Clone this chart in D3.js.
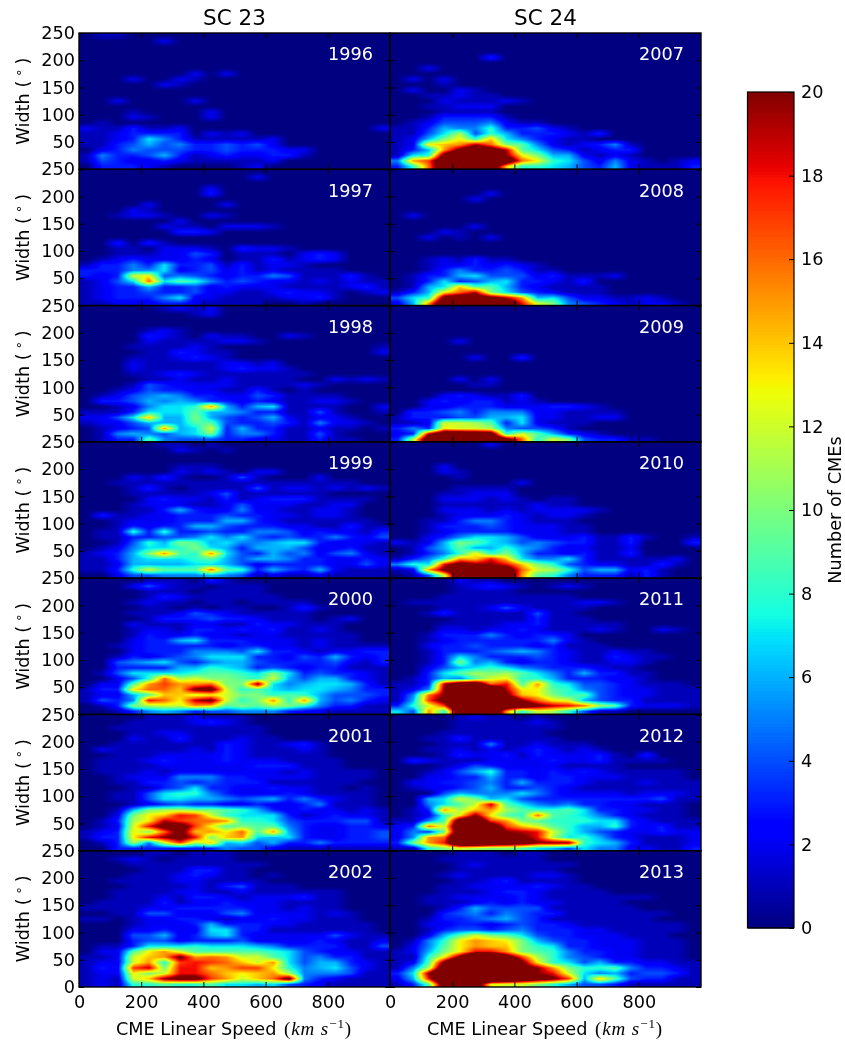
<!DOCTYPE html>
<html>
<head>
<meta charset="utf-8">
<script src="https://cdn.jsdelivr.net/npm/d3@7"></script>
<style>
  html, body { margin: 0; padding: 0; background: #fff; }
  #chart { position: relative; width: 845px; height: 1042px; overflow: hidden; }
  canvas { position: absolute; }
  svg { position: absolute; left: 0; top: 0; font-family: "DejaVu Sans", sans-serif; }
</style>
</head>
<body>
<div id="chart"></div>
<script>
// counts per cell, rows from 0-10 deg upward, columns 0-50 km/s onward. Short rows end in zeros.
const counts1996 = [
  [0,3,3,3,2,1,0,0,0,0,1,2],
  [1,4,3,2,2,3,2,1,1,1,1,1,2],
  [1,5,3,3,4,6,3,1,2,3,2,2,3,3,1],
  [0,2,3,5,4,4,4,3,3,4,3,3,3,2,2],
  [1,1,3,4,6,4,5,3,3,4,3,4,2],
  [1,1,2,3,7,5,3,1,1,1,1,1,2],
  [1,1,2,3,3,3,3,0,2,1,2],
  [2,1,1,3,1,1,2,0,0,0,0,0,0,0,0,0,0,0,0,2],
  [0,1],
  [0,0,0,2,1,0,0,0,2],
  [0,0,0,1,0,0,0,0,2],
  [],
  [0,0,2,0,0,0,0,2],
  [],
  [],
  [0,0,0,0,0,2,1],
  [0,0,0,2,0,0,2,1],
  [0,0,0,0,0,0,0,2,0,2],
  [],[],[],[],[],
  [0,0,0,0,0,2],
  [0,1,1]
];
const counts1997 = [
  [1,1,2,2,2,3,3,2,1,1,1,1,0,0,1],
  [1,2,3,3,3,5,7,2,2,1,1,1,1,2,2,3,1],
  [1,2,3,3,4,3,3,4,2,2,1,1,2,3,2,2,1,0,1,2],
  [1,2,3,3,6,3,3,4,2,3,2,2,2,1,1,1,1,2,3,1],
  [1,2,4,7,16,7,9,8,5,3,4,3,2,2,1,2,1,2,1,1],
  [3,2,3,12,13,4,5,4,3,2,3,3,5,4,1,1,1,3,1],
  [3,3,3,5,5,7,2,3,4,2,3,1,2,1,1,1,1],
  [1,3,3,5,3,7,3,3,4,1,3,1,2,2,1],
  [0,1,2,3,2,2,2,3,2,0,1,1,3,1,2,3,2],
  [0,0,1,1,1,2,2,4,3,0,1,1,1,0,2,3,2],
  [0,0,1,1,0,2,2,2,1,0,3,2,2,1],
  [0,0,3,0,3,1],
  [],
  [0,0,0,0,0,0,3,3,2],
  [0,0,0,0,0,2,1,1,0,2,2,2,1],
  [0,0,0,0,0,0,2],
  [0,0,1,2,2,1,0,0,2,1],
  [0,0,0,2,1],
  [0,0,0,0,2,0,0,0,0,2],
  [],
  [0,0,0,0,0,0,0,0,3],
  [0,0,0,0,0,0,0,0,2],
  [],
  [0,0,0,0,0,0,0,0,0,0,0,2],
  []
];
const counts1998 = [
  [0,1,3,3,9,5,4,4,4,3,3,2,2,1,1,3,1,1],
  [0,1,5,6,5,4,6,7,10,3,5,5,3,1,1,4,1],
  [0,1,2,3,4,15,6,7,12,3,6,3,3,1,1,2,1,1,0,1],
  [1,2,2,4,6,6,6,9,9,4,3,3,4,3,1,5,2,2,1],
  [2,2,4,7,14,6,6,10,6,4,3,4,6,2,1,2,2,1],
  [1,1,1,3,7,7,7,9,6,6,5,3,3,1,1,4,1,0,0,1],
  [0,0,1,2,5,7,7,8,15,6,3,6,7,1,1,1,1,0,0,2],
  [0,3,3,4,6,5,6,5,3,3,2,3,2,1,1,2,2,1],
  [0,1,2,4,5,6,5,3,3,2,2,4,3,1,1,1,1],
  [0,0,1,2,4,3,3,2,2,1,1,3,1,0,1],
  [0,0,0,1,4,3,2,2,2,2,1,1,1,1,2,1],
  [0,0,0,0,1,1,2,1,1,2,1,1,1,1,0,0,2,1,2,1],
  [0,0,0,1,1,2,3,2,1,1,1,1,1,1,1],
  [0,0,0,2,1,1,1,1,1,2,3,2,2,1],
  [0,0,0,2,1,1,1,1,1,2,2,1,2],
  [0,0,0,1,1,1,2,3,2,1],
  [0,0,0,0,1,1,3,2,1,1,0,0,0,0,0,0,0,0,0,2],
  [0,0,0,1,1,1,1,2,1,0,0,0,0,0,0,0,0,0,0,1],
  [0,0,0,0,2,1,1,1,1,2,2,1],
  [0,0,0,0,3,2,1,0,2,1,1,0,0,2,1],
  [0,0,0,0,1,2,1],
  [],
  [],
  [0,0,0,0,0,0,0,1,2],
  [0,0,0,0,0,1,2,1,2]
];
const counts1999 = [
  [0,0,2,4,4,5,5,5,6,5,4,1,2,1,1,2,1,1,1,1],
  [1,1,3,8,12,9,9,9,16,9,8,3,6,4,3,6,2,1,1,1],
  [1,1,2,6,6,6,6,7,7,6,4,2,3,3,3,3,2,2,4,2],
  [1,1,3,6,7,7,7,8,9,6,4,6,6,5,3,3,2,2,3,2],
  [1,2,3,6,10,15,9,8,15,7,4,3,6,4,5,2,4,5,2,1],
  [0,1,2,5,7,7,8,10,7,6,3,6,6,6,4,2,2,3,1,1],
  [0,0,1,4,8,6,10,9,6,7,5,5,6,7,7,3,2,2,2,1],
  [0,1,1,3,3,4,4,5,7,5,7,4,3,4,3,3,5,3,2,4],
  [0,1,1,8,3,8,3,3,4,3,3,5,5,4,2,3,2,2,1,3],
  [0,0,1,3,2,3,3,6,6,4,3,3,3,2,2,1,1,3,1,1],
  [0,0,1,2,2,2,3,3,3,6,6,3,2,1,1,1,1,1,1],
  [0,3,1,1,2,2,3,3,3,4,3,3,2,2,1,2,2,1],
  [0,0,0,1,1,3,6,3,2,2,5,2,2,1,1,2,2,1],
  [0,0,0,1,2,2,2,1,1,2,4,2,2,2,1,1,2,2],
  [0,0,0,0,2,3,2,2,1,3,1,2,3,3,3,1,1,1,1],
  [0,0,0,1,1,1,1,1,2,4,1,1,1,1,1,1],
  [0,0,0,1,3,1,0,1,1,1,1,4,1,2,2,1,2,1,2,1],
  [0,0,1,1,1,1,1,1,1,1,1,1,1,1,1,1,1,1],
  [0,0,0,2,1,3,1,0,0,1,4,1,0,0,0,2],
  [0,0,0,0,0,0,2,1,2,1,0,2,2],
  [0,0,0,0,0,0,1,1,1],
  [],
  [],
  [0,0,0,0,0,0,2,1,0,1],
  [0,0,0,0,0,1,1,0,1]
];
const counts2000 = [
  [0,0,1,3,5,6,5,3,4,4,5,5,5,3,2,2,1,1,1,1],
  [0,1,3,10,11,12,12,15,14,9,10,9,11,10,8,5,3,3,1,1],
  [1,4,3,5,18,16,13,19,21,12,8,10,15,8,15,6,4,5,3,2],
  [1,2,2,6,9,14,14,12,13,12,10,10,8,9,8,6,4,4,4,3],
  [1,3,3,13,16,16,14,21,22,12,8,9,7,6,7,7,6,5,3,3],
  [0,2,2,9,15,17,15,15,16,10,10,20,7,5,6,7,7,6,3,1],
  [0,0,2,4,8,16,11,12,10,10,9,8,12,6,4,6,6,3,2,1],
  [0,1,4,7,7,7,7,8,9,9,8,7,10,7,3,4,3,3,2,1],
  [0,0,3,3,3,3,6,6,8,7,6,3,4,3,2,3,3,1,1,1],
  [0,0,4,5,6,7,4,3,5,6,6,4,3,3,3,3,4,2,1,3],
  [0,0,1,3,2,3,4,5,7,7,7,3,3,2,4,3,6,3,2,3],
  [0,0,0,2,3,3,3,5,5,5,4,7,3,3,2,1,2,2,3,3],
  [0,0,1,2,3,3,3,3,3,2,3,3,2,2,1,2,1,1,1,1],
  [0,0,0,2,3,3,6,7,3,3,3,2,2,2,1,2,1,1],
  [0,0,0,1,3,2,2,3,2,2,1,2,2,1,1,1,1,1],
  [0,0,0,1,2,2,1,3,3,2,3,2,3,1,1,2,1],
  [0,0,0,2,1,1,1,2,2,1,1,3,2,2,1,1,1],
  [0,0,0,0,1,3,3,3,4,3,3,2,1,1,1,0,1,2],
  [0,0,0,1,1,1,2,4,3,2,1,1,1,1,1],
  [0,0,0,0,1,1,0,1,0,1,1,0,0,1,3,1],
  [0,0,0,1,2,1,1,0,1,1,0,1,1,1,1],
  [0,0,0,0,1,3,2,1,1,1,1,1,1],
  [0,0,0,0,1,1,1,0,1,1,1,1],
  [0,0,0,2,4,2,1,1,0,1,1,1],
  [0,0,0,0,1,1,1,0,3,1]
];
const counts2001 = [
  [0,0,3,3,3,3,3,3,3,5,4,4,2,1,1,1,1,1,1,1],
  [0,1,3,11,5,12,17,11,14,6,7,4,6,3,3,5,3,3,3,3],
  [1,3,3,13,18,20,22,18,10,14,15,7,6,7,3,2,2,3,3,4],
  [1,2,3,13,10,16,22,14,15,13,16,9,15,6,3,2,2,3,3,4],
  [0,1,2,12,18,22,23,17,13,9,10,9,9,5,3,2,2,3,3,2],
  [0,1,3,11,13,19,17,16,16,15,8,8,7,4,3,3,3,4,4,1],
  [0,0,2,10,13,14,18,17,12,8,7,7,7,3,1,2,3,2,2,1],
  [0,0,1,6,10,11,11,10,10,9,8,6,3,2,3,2,2,1,2,1],
  [0,0,0,1,2,3,4,3,3,2,2,3,2,2,3,5,1,1,1],
  [0,0,1,1,4,7,7,6,6,5,4,5,6,3,5,3,2,1,1],
  [0,0,1,1,4,7,8,8,5,3,2,2,2,3,2,1,1,1,1],
  [0,0,0,1,1,3,4,7,3,3,2,2,3,2,2,1,1,0,1],
  [0,0,1,1,3,3,4,3,4,3,3,3,1,1,1,1,1,1],
  [0,0,1,2,2,2,5,5,5,3,3,2,2,2,2,1,1,1,1],
  [0,1,1,1,2,1,2,2,2,2,2,2,2,1,2,1,1,1,1],
  [0,1,1,1,1,2,2,2,2,2,2,3,3,3,1,1,1],
  [0,1,1,1,2,3,2,2,2,3,2,2,2,1,1,1,1],
  [0,0,1,1,1,2,2,2,2,3,2,1,1,1,1,1],
  [0,2,1,1,1,1,1,2,1,3,2,1,1,1,2,1],
  [0,0,1,1,1,1,1,1,1,3,2,1,1,2,3,1],
  [0,0,0,2,1,1,3,1,1,1,2,1,1],
  [0,0,0,1,1,2,2,1,1,1,1,1],
  [0,0,1,1,1,1,1,1,1,1,1,1],
  [0,0,0,1,1,1,1,2,3,2,1],
  [0,0,0,0,1,1,1,2,1,1,1]
];
const counts2002 = [
  [1,2,1,8,8,9,8,8,9,7,7,6,7,4,3,2,1,1,1,1],
  [1,2,1,12,14,20,22,22,17,15,12,14,16,22,5,3,2,1,1,1],
  [1,2,2,13,10,12,18,18,16,14,13,14,15,11,5,5,5,4,1,1],
  [1,3,2,17,19,10,18,18,14,15,17,17,13,8,5,6,7,4,2,1],
  [1,2,2,12,15,8,17,18,17,16,14,12,15,7,4,6,6,3,2,1],
  [1,1,2,12,14,15,21,15,16,15,12,12,9,7,4,5,3,3,1,1],
  [0,2,2,9,13,15,12,9,9,9,9,9,8,7,4,3,2,2,1,1],
  [0,1,1,3,7,7,7,8,7,7,7,6,5,3,3,3,3,1,1,4],
  [0,0,0,3,4,4,2,3,3,3,4,2,2,2,2,3,2,1,1,2],
  [0,0,0,4,4,6,2,3,6,7,3,2,2,2,2,2,4,2,1,1],
  [0,0,0,2,2,3,2,2,7,7,3,3,1,1,1,1,1,1,1],
  [0,0,0,1,2,2,2,3,6,3,3,3,2,2,1,1,1,1,1],
  [1,1,0,1,2,2,3,3,2,1,2,2,3,2,2,1,1,1],
  [0,0,1,1,4,4,2,2,2,4,5,2,2,2,2,1,2,1],
  [1,1,1,1,2,2,3,3,3,3,3,2,2,1,2,1,1],
  [0,1,1,1,1,3,1,2,2,3,2,2,2,1,1,1,1],
  [0,0,1,1,1,2,1,3,3,2,1,2,2,2,3,1,1],
  [0,0,1,1,1,1,2,2,1,1,2,1,1,1,1,1,1],
  [0,0,0,1,1,1,1,2,1,3,4,1,1,1],
  [0,0,1,1,1,1,2,2,1,1,1,1],
  [0,0,0,1,1,1,2,3,2,1,1,0,1],
  [0,0,0,0,1,1,1,3,3,1,1],
  [0,0,0,1,1,1,1,1,1,1,1,1],
  [0,0,1,2,1,0,1,1,1,1],
  [0,0,0,0,1,1,0,1,1,1]
];
const counts2007 = [
  [3,8,16,25,30,30,25,14,8,8,7,6,4,3,6,2,1,1,1,3],
  [5,15,17,25,30,30,30,25,16,13,8,7,4,2,5,2,1,0,1,2],
  [1,7,8,22,28,30,28,20,13,10,6,6,2,1,2,1],
  [1,3,6,15,21,25,23,19,9,7,4,3,1,2,3,3],
  [1,2,13,14,15,19,16,10,9,5,2,1,2,3,5,1],
  [1,2,6,10,13,8,14,7,5,3,2,1,1],
  [1,1,4,7,11,4,8,6,3,3,3,2,1,3],
  [1,1,3,6,5,5,8,3,3,4,2,1],
  [0,1,2,4,4,4,5,2,1,1],
  [0,0,1,3,3,3,3,1],
  [0,0,0,1,1,1,1],
  [0,0,1,1,2,2,2],
  [0,0,0,2,1,1,1,2,1],
  [0,0,1,1,2,1,1],
  [0,2,0,0,2,1],
  [0,0,0,1],
  [0,2,0,2],
  [],
  [0,0,2],
  [],
  [0,0,0,0,0,0,3],
  [],[],[],[]
];
const counts2008 = [
  [2,6,15,25,28,28,28,24,18,12,10,5,4,3,2,1,2,2,1],
  [4,7,8,22,24,23,22,19,15,6,7,4,2,2,1,1,2,1],
  [1,3,6,13,16,19,10,7,4,3,2,1,1,1],
  [0,1,6,7,14,9,9,6,3,2,1,1,1,1],
  [0,1,3,7,3,4,6,7,3,3,2,1,3],
  [0,1,3,3,6,7,4,4,4,2,3,1,1,1,2],
  [0,0,1,3,5,3,3,4,3,1,1],
  [0,0,1,2,2,3,2,3,2,1],
  [0,0,1,2,1,3,1,1],
  [],
  [],
  [],
  [0,0,2,0,1,0,2],
  [0,0,0,2,1],
  [0,0,0,0,0,2],
  [],
  [0,2],
  [],[],
  [0,0,0,0,0,2],
  [0,0,0,0,0,0,2],
  [],[],[],[]
];
const counts2009 = [
  [3,11,25,25,25,25,25,22,16,8,12,10,4,3,3,1,1],
  [2,3,19,25,25,24,23,8,12,9,6,3,2,1],
  [3,5,3,13,12,12,11,5,4,4,3,1],
  [1,1,2,12,12,11,9,3,7,2,1,1,1],
  [1,3,3,3,4,4,6,6,7,2,2,1,1,2,2],
  [0,3,3,4,5,3,5,5,5,2,2,1,1,1,1],
  [0,0,2,2,3,3,3,2,2,2,3,3,2,1],
  [0,0,2,3,2,3,3,1,2,1],
  [0,0,0,2,3,2,1,1,3],
  [],
  [0,0,0,0,0,1,1],
  [0,0,0,0,2,0,2],
  [],[],[],
  [0,0,0,0,0,2,0,0,3],
  [],[],
  [0,0,0,0,2],
  [],[],[],[],[],[]
];
const counts2010 = [
  [0,1,4,12,25,25,25,25,15,9,8,5,3,3,3,1,3,1],
  [1,2,15,21,25,25,25,24,16,12,11,8,4,6,6,2,3,1],
  [5,8,7,18,22,20,20,18,14,10,8,4,3,2,2,1,1,3,1],
  [1,3,5,8,15,14,18,14,7,5,5,7,3,1,1,1,1,1,2],
  [0,1,3,5,8,13,8,10,6,3,3,2,3,1,1,3],
  [0,1,4,6,9,6,6,8,6,5,3,2,2,1,1,2],
  [2,1,2,6,10,9,7,6,4,5,4,3,3,1,1,3,0,0,0,3],
  [0,0,2,3,5,7,7,6,4,2,2,2,3,1,1,3,1,0,0,1],
  [0,0,1,2,3,3,3,3,2,2,2,1,1],
  [0,0,1,3,3,3,4,3,2,2,2,1,1],
  [0,0,1,1,3,5,5,3,2,1,1,1],
  [0,0,0,1,2,2,2,3,2,1,2,2,1],
  [0,0,0,2,2,2,1,2,1,2,2,2,2,1],
  [0,0,0,1,1,1,1,1,1,2,1,1],
  [0,0,0,2,2,2,1,2,1,0,1,1],
  [0,0,0,1,1,2,2,2],
  [0,0,0,0,1,1,1,1],
  [0,0,0,0,0,0,0,0,2],
  [0,0,0,0,1],
  [0,0,0,2,1],
  [0,0,0,2],
  [],[],[],
  [0,0,0,0,0,0,2]
];
const counts2011 = [
  [7,4,15,8,25,28,28,15,8,12,11,8,4,1,1],
  [3,8,12,17,30,30,30,25,25,21,19,18,16,11,9,3,2,2,2,1],
  [1,6,17,22,30,30,30,26,20,16,13,12,6,4,3,3,1,1,1,1],
  [1,5,16,20,30,30,30,21,14,13,10,8,9,4,3,2,2,1,1,1],
  [1,2,5,20,30,30,28,19,13,13,9,8,5,4,3,2,2,1,1,1],
  [1,1,3,19,25,25,16,18,9,15,8,7,4,4,3,2,1,1,1],
  [0,1,3,6,5,9,12,13,8,8,6,3,3,3,2,2,1],
  [0,0,3,7,9,11,10,11,9,7,5,3,6,3,3,1,1],
  [0,0,2,4,6,7,8,7,5,4,3,3,3,2,1,1],
  [0,0,1,3,10,5,6,3,2,3,3,2,1,1,2,2,1],
  [0,0,1,3,7,5,3,3,3,4,3,2,1,1,3,2,1,1],
  [0,0,1,3,3,3,4,5,6,5,3,2,1,1,2,1,1],
  [0,0,2,3,3,4,3,3,3,2,3,1,1,1],
  [0,0,1,2,3,3,3,3,3,3,5,2,1],
  [0,0,1,3,3,3,5,3,2,3,3,2],
  [0,0,0,2,2,1,2,2,3,2,1,1,1,2,1,0,0,2,1],
  [0,0,0,1,1,1,1,2,2,3,1,1,1,1,1],
  [0,0,0,0,1,1,1,1,1,3,1,1,1],
  [0,0,1,3,1,1,1,1,1,4,1,1],
  [0,0,0,1,1,1,2,4,2,1,1,1,1],
  [0,1,1,1,1,1,1,1,1,1,1,1,2,2,1],
  [0,0,0,1,1,1,1,1,1,1,1,1],
  [0,0,0,0,1,1,1,1],
  [0,0,0,0,1,2,3,2,1,0,1,2,1],
  [0,0,0,0,2,1,1]
];
const counts2012 = [
  [1,1,8,10,12,11,10,10,9,7,6,4,7,5,5,2,2,1,1,3],
  [3,10,15,18,28,28,26,24,23,20,20,20,8,7,6,3,1,1,1,2],
  [2,5,15,16,28,30,28,22,21,18,11,7,8,6,3,2,1,1,1,2],
  [2,5,3,10,25,30,28,20,19,18,12,8,6,4,3,2,2,3,2,2],
  [2,3,16,12,26,28,24,17,14,12,9,8,6,6,8,3,2,3,1,1],
  [1,1,5,9,24,26,17,15,10,9,8,8,8,7,7,3,2,1,1,1],
  [0,1,2,8,13,20,13,9,8,16,9,8,7,5,3,2,1,1,1],
  [0,1,3,15,11,14,15,11,9,8,8,9,7,3,3,2,2,1,1],
  [0,0,5,7,9,12,19,9,7,5,4,5,3,3,2,2,1,1,1],
  [0,0,6,7,12,10,6,7,4,3,3,3,3,3,3,3,3,4,1,1],
  [0,0,0,4,6,5,5,5,7,5,3,2,2,2,2,1,2,2,2,1],
  [0,1,2,2,3,4,6,3,3,4,3,2,1,1,1,1,1,1,1,1],
  [0,2,2,3,3,4,5,3,6,3,3,3,2,1,1,1,2,1,1,1],
  [0,0,2,2,3,3,6,3,3,2,3,3,2,2,2,1,1,1,1],
  [0,0,1,2,4,6,8,3,3,2,3,2,3,2,1,1,1,1,1],
  [0,0,0,1,2,4,3,2,2,2,2,1,1,1,1],
  [0,3,2,1,1,1,2,2,2,2,3,2,2,3,1,1,1,1],
  [0,0,0,1,3,2,2,3,1,3,2,2,2,3,1,0,3],
  [0,0,1,1,2,1,2,1,2,3,2,1,2,1],
  [0,0,0,1,1,1,5,1,1,2,1,1,1],
  [0,0,1,1,3,1,1,1,1,1,1],
  [0,0,0,1,1,1,1,1,1,1],
  [0,0,0,0,1,1,1,1,1,1,1],
  [0,0,0,0,1,1,1,1,1,2,1],
  [0,0,0,0,1,2,1,1,0,1]
];
const counts2013 = [
  [1,3,9,24,25,25,13,12,12,10,8,6,4,4,3,1,1,1,1,1],
  [2,6,18,28,30,30,30,28,25,23,21,17,6,14,9,4,3,3,1,1],
  [3,7,20,30,30,30,30,30,26,20,18,12,7,5,6,3,4,4,3,1],
  [1,5,11,25,30,30,30,30,22,20,15,10,8,8,9,5,3,3,2,1],
  [1,2,9,21,30,30,30,28,21,13,8,7,4,6,3,3,2,2,1,1],
  [1,1,8,13,21,30,28,23,17,11,8,5,4,3,2,2,1,1,1],
  [1,2,6,10,13,18,18,15,10,9,8,5,3,3,2,2,1,1,1],
  [0,2,5,9,13,15,14,14,10,8,7,3,3,2,2,2,1,1,1],
  [0,1,5,8,13,15,14,13,10,6,4,3,3,2,2,2,1,1,1],
  [0,0,2,6,9,12,10,9,7,4,3,3,2,2,2,1,1,1],
  [0,0,1,3,4,4,3,4,5,3,3,3,2,2,1,1,1,1,1],
  [0,0,2,2,3,3,2,3,4,3,3,2,1,1,1,1,1,1,1],
  [0,0,1,3,3,4,5,6,4,3,1,1,1,1,1,1,1],
  [0,0,0,3,4,5,3,5,4,3,3,1,1,1,1,1,1,1],
  [0,0,0,1,3,6,4,4,4,4,1,1,1,1,1,1],
  [0,0,1,1,1,2,3,2,3,2,2,1,1,1,1],
  [0,0,1,1,2,2,2,2,3,2,1,1,1,1,1,1,1],
  [0,0,0,1,1,1,2,3,3,2,1,1,1,1],
  [0,0,0,1,1,2,2,2,2,3,2,1,1],
  [0,0,0,0,1,1,2,3,1,1,1,1],
  [0,0,0,1,2,1,1,1,1,2,2,1],
  [0,0,0,0,1,1,1,1,1,1,1],
  [0,0,0,0,1,2,1,1,1,1,1,1],
  [0,0,0,1,1,1,1,1,1,1],
  [0,0,0,0,1,1,1,0,1,1]
];

const leftYears = [1996, 1997, 1998, 1999, 2000, 2001, 2002];
const rightYears = [2007, 2008, 2009, 2010, 2011, 2012, 2013];
const countsByYear = {
  1996: counts1996, 1997: counts1997, 1998: counts1998, 1999: counts1999,
  2000: counts2000, 2001: counts2001, 2002: counts2002, 2007: counts2007,
  2008: counts2008, 2009: counts2009, 2010: counts2010, 2011: counts2011,
  2012: counts2012, 2013: counts2013
};
const cycleTitles = ['SC 23', 'SC 24'];
const speedTicks = [0, 200, 400, 600, 800];
const widthTicks = [0, 50, 100, 150, 200, 250];
const colorTicks = d3.range(0, 21, 2);
const speedBin = 50;
const widthBin = 10;

// matplotlib jet, channel by channel
const jetR = d3.scaleLinear([0, 0.35, 0.66, 0.89, 1], [0, 0, 1, 1, 0.5]).clamp(true);
const jetG = d3.scaleLinear([0, 0.125, 0.375, 0.64, 0.91, 1], [0, 0, 1, 1, 0, 0]).clamp(true);
const jetB = d3.scaleLinear([0, 0.11, 0.34, 0.65, 1], [0.5, 1, 1, 0, 0]).clamp(true);
const norm = d3.scaleLinear([0, 20], [0, 1]).clamp(true);
const jet = v => { const t = norm(v); return [jetR(t) * 255, jetG(t) * 255, jetB(t) * 255]; };

const W = 845, H = 1042;
const colX = d3.scaleLinear([0, 2], [79, 701]);
const rowY = d3.scaleLinear([0, 7], [33, 987]);
const pw = colX(1) - colX(0), ph = rowY(1) - rowY(0);
const x = d3.scaleLinear([0, 1000], [0, pw]);
const y = d3.scaleLinear([0, 250], [ph, 0]);

const chart = d3.select('#chart');
const svg = chart.append('svg').attr('width', W).attr('height', H);
const fontSize = 17.7;

// bilinear between cell centres, like imshow's smoothing
function cellValue(rows, r, c) {
  r = Math.max(0, Math.min(rows.length - 1, r));
  c = Math.max(0, Math.min(19, c));
  return rows[r][c] || 0;
}
function sample(rows, speed, width) {
  const cf = speed / speedBin - 0.5, rf = width / widthBin - 0.5;
  const c0 = Math.floor(cf), r0 = Math.floor(rf);
  const tc = cf - c0, tr = rf - r0;
  return (cellValue(rows, r0, c0) * (1 - tc) + cellValue(rows, r0, c0 + 1) * tc) * (1 - tr) +
    (cellValue(rows, r0 + 1, c0) * (1 - tc) + cellValue(rows, r0 + 1, c0 + 1) * tc) * tr;
}

function drawHeat(year, left, top) {
  const rows = countsByYear[year];
  const w = Math.round(pw), h = Math.round(ph);
  const canvas = chart.insert('canvas', 'svg')
    .attr('width', w).attr('height', h)
    .style('left', left + 'px').style('top', top + 'px')
    .style('width', pw + 'px').style('height', ph + 'px');
  const ctx = canvas.node().getContext('2d');
  const img = ctx.createImageData(w, h);
  for (let j = 0; j < h; j++) {
    for (let i = 0; i < w; i++) {
      const [r, g, b] = jet(sample(rows, x.invert((i + 0.5) * pw / w), y.invert((j + 0.5) * ph / h)));
      const k = (j * w + i) * 4;
      img.data[k] = r; img.data[k + 1] = g; img.data[k + 2] = b; img.data[k + 3] = 255;
    }
  }
  ctx.putImageData(img, 0, 0);
}

function styleAxis(g) {
  g.select('.domain').remove();
  g.selectAll('line').attr('stroke', '#000').attr('stroke-width', 1);
  g.selectAll('text').attr('fill', '#000').attr('font-size', fontSize).attr('font-family', '"DejaVu Sans", sans-serif');
}

function drawPanel(year, col, row) {
  const left = colX(col), top = rowY(row);
  drawHeat(year, left, top);
  const g = svg.append('g').attr('transform', `translate(${left},${top})`);
  const isBottom = row === 6, isLeft = col === 0;

  g.append('g').attr('transform', `translate(0,${ph})`)
    .call(d3.axisBottom(x).tickValues(speedTicks).tickSize(-5).tickPadding(8)
      .tickFormat(d => isBottom ? d : ''))
    .call(styleAxis);
  g.append('g')
    .call(d3.axisTop(x).tickValues(speedTicks).tickSize(-5).tickFormat(''))
    .call(styleAxis);
  g.append('g')
    .call(d3.axisLeft(y).tickValues(widthTicks).tickSize(-5).tickPadding(4)
      .tickFormat(d => (isLeft && (d > 0 || isBottom)) ? d : ''))
    .call(styleAxis);
  g.append('g').attr('transform', `translate(${pw},0)`)
    .call(d3.axisRight(y).tickValues(widthTicks).tickSize(-5).tickFormat(''))
    .call(styleAxis);

  g.append('rect').attr('width', pw).attr('height', ph)
    .attr('fill', 'none').attr('stroke', '#000').attr('stroke-width', 1.4);

  g.append('text').attr('x', x(945)).attr('y', y(200))
    .attr('text-anchor', 'end').attr('fill', '#fff').attr('font-size', fontSize)
    .text(year);

  if (isLeft) {
    const t = g.append('text')
      .attr('transform', `translate(-50,${ph / 2}) rotate(-90)`)
      .attr('text-anchor', 'middle').attr('font-size', fontSize);
    t.append('tspan').text('Width (');
    t.append('tspan').attr('dy', -6).attr('dx', 4).attr('font-size', 13).text('∘');
    t.append('tspan').attr('dy', 6).attr('dx', 4).text(')');
  }
  if (isBottom) {
    const t = g.append('text').attr('x', pw / 2 - 0.5).attr('y', ph + 48)
      .attr('text-anchor', 'middle').attr('font-size', fontSize);
    t.append('tspan').text('CME Linear Speed ');
    const math = t.append('tspan').attr('font-family', '"Liberation Serif", serif')
      .attr('font-size', 19).attr('letter-spacing', 0.9);
    math.append('tspan').attr('dx', 2).text('(');
    math.append('tspan').attr('font-style', 'italic').text('km s');
    math.append('tspan').attr('dy', -7).attr('font-size', 13).text('−1');
    math.append('tspan').attr('dy', 7).text(')');
  }
}

leftYears.forEach((year, i) => drawPanel(year, 0, i));
rightYears.forEach((year, i) => drawPanel(year, 1, i));

svg.selectAll('.cycle').data(cycleTitles).enter().append('text')
  .attr('class', 'cycle')
  .attr('x', (d, i) => colX(i + 0.5))
  .attr('y', 25)
  .attr('text-anchor', 'middle')
  .attr('font-size', 21.5)
  .text(d => d);

// colour bar
const cbLeft = 747.5, cbWidth = 46.5;
const cbY = d3.scaleLinear([0, 20], [928, 92]);
const cbSteps = d3.range(256).map(i => i / 256 * 20);
const cb = svg.append('g').attr('shape-rendering', 'crispEdges');
cb.selectAll('rect').data(cbSteps).enter().append('rect')
  .attr('x', cbLeft).attr('width', cbWidth)
  .attr('y', d => Math.floor(cbY(d + 20 / 256)))
  .attr('height', 5)
  .attr('fill', d => { const [r, g, b] = jet(d); return d3.rgb(r, g, b); });
svg.append('rect').attr('x', cbLeft).attr('y', cbY(20)).attr('width', cbWidth).attr('height', cbY(0) - cbY(20))
  .attr('fill', 'none').attr('stroke', '#000').attr('stroke-width', 1.2);
svg.append('rect').attr('x', cbLeft - 1).attr('y', cbY(0) + 0.6).attr('width', cbWidth + 2).attr('height', 5)
  .attr('fill', '#fff');
svg.append('line').attr('x1', cbLeft).attr('x2', cbLeft + cbWidth).attr('y1', cbY(0)).attr('y2', cbY(0))
  .attr('stroke', '#000').attr('stroke-width', 1.2);
svg.append('g').attr('transform', `translate(${cbLeft + cbWidth},0)`)
  .call(d3.axisRight(cbY).tickValues(colorTicks).tickSize(-5).tickPadding(7))
  .call(styleAxis);
svg.append('text')
  .attr('transform', `translate(841,${(cbY(0) + cbY(20)) / 2}) rotate(-90)`)
  .attr('text-anchor', 'middle').attr('font-size', fontSize)
  .text('Number of CMEs');
</script>
</body>
</html>
